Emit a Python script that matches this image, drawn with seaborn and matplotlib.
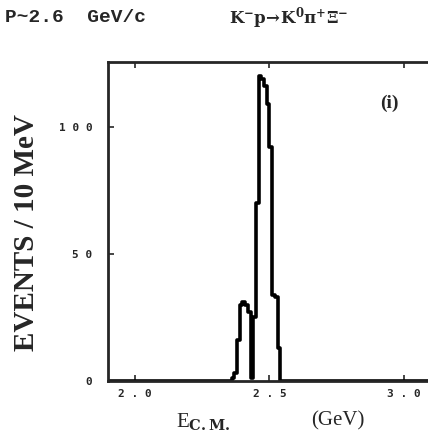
import numpy as np
import pandas as pd
import matplotlib
matplotlib.use('Agg')
import matplotlib.pyplot as plt
import seaborn as sns

# Histogram: 10 MeV bins (lower edges in GeV) and event counts
bin_lo = [2.36, 2.37, 2.38, 2.39, 2.40, 2.41, 2.42, 2.43, 2.44, 2.45,
          2.46, 2.47, 2.48, 2.49, 2.50, 2.51, 2.52, 2.53]
counts = [1, 3, 16, 30, 31, 30, 27, 1, 25, 70,
          120, 119, 116, 109, 92, 34, 33, 13]
x_ticks = [2.0, 2.5, 3.0]
x_ticklabels = ['2 . 0', '2 . 5', '3 . 0']
y_ticks = [0, 50, 100]
y_ticklabels = ['0', '5 0', '1 0 0']

df = pd.DataFrame({'ecm': np.array(bin_lo) + 0.005, 'n': counts})

sns.set_style('ticks')
plt.rcParams['font.family'] = ['Liberation Mono', 'DejaVu Sans']

fig = plt.figure(figsize=(4.28, 4.48), dpi=100)
ax = fig.add_axes([0.252, 0.1496, 0.755, 0.712])

sns.histplot(data=df, x='ecm', weights='n', binwidth=0.01, binrange=(1.90, 3.10),
             element='step', fill=False, color='black', linewidth=2.6, ax=ax)

ax.set_xlim(1.90, 3.10)
ax.set_ylim(0, 125.5)
ax.set_xticks(x_ticks)
ax.set_xticklabels(x_ticklabels, fontsize=8, fontweight='bold', family='DejaVu Sans Mono')
ax.set_yticks(y_ticks)
ax.set_yticklabels(y_ticklabels, fontsize=8, fontweight='bold', family='DejaVu Sans Mono')
ax.tick_params(direction='in', length=4, width=1.2, top=True, right=False)
ax.tick_params(axis='y', pad=11)
ax.tick_params(axis='x', pad=6)
for s in ['left', 'top', 'bottom']:
    ax.spines[s].set_linewidth(2)
ax.spines['right'].set_visible(False)
ax.set_xlabel('')
ax.set_ylabel('')

# Labels placed as on the scanned figure
fig.text(0.012, 0.96, 'P~2.6  GeV/c', fontsize=14, fontweight='bold', va='center')
fig.text(0.535, 0.96, r'$\mathbf{K^{-}p\!\rightarrow\!K^{0}\pi^{+}\Xi^{-}}$',
         fontsize=12, va='center', math_fontfamily='dejavuserif')
fig.text(0.063, 0.482, 'EVENTS / 10 MeV', rotation=90, fontsize=21,
         fontweight='bold', family='Liberation Serif', ha='center', va='center')
ax.text(0.87, 0.87, '(i)', transform=ax.transAxes, fontsize=14, fontweight='bold',
        family='Liberation Serif', ha='center', va='center')
fig.text(0.475, 0.058, r'E$_{\mathbf{C.M.}}$', fontsize=15, family='Liberation Serif',
         ha='center', va='center', math_fontfamily='dejavuserif')
fig.text(0.79, 0.06, '(GeV)', fontsize=15, family='Liberation Serif',
         ha='center', va='center')

fig.savefig('out.png', dpi=100)
